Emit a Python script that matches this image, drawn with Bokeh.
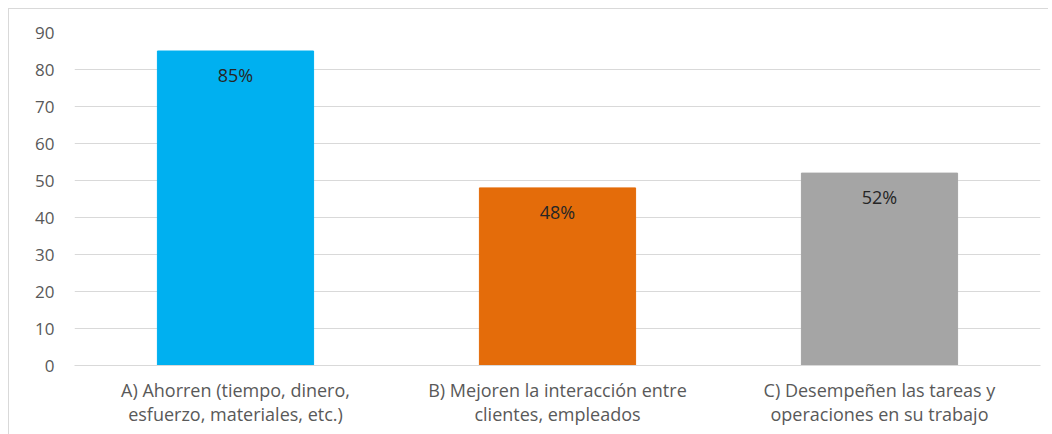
from bokeh.plotting import figure
from bokeh.models import ColumnDataSource, Range1d, FixedTicker, LabelSet
from bokeh.core.properties import value
from bokeh.embed import file_html
from bokeh.resources import INLINE

categories = ["A) Ahorren (tiempo, dinero,\nesfuerzo, materiales, etc.)",
              "B) Mejoren la interacción entre\nclientes, empleados",
              "C) Desempeñen las tareas y\noperaciones en su trabajo"]
values = [85, 48, 52]
labels = ["85%", "48%", "52%"]
colors = ["#00B0F0", "#E46C0A", "#A5A5A5"]
y_ticks = [0, 10, 20, 30, 40, 50, 60, 70, 80, 90]

src = ColumnDataSource(dict(x=categories, top=values, lab=labels, color=colors))

p = figure(x_range=categories, y_range=Range1d(0, 90), width=1040, height=426,
           output_backend="svg", toolbar_location=None)
p.min_border = 0
p.min_border_left = 65
p.min_border_right = 9
p.min_border_top = 23
p.min_border_bottom = 70
p.margin = (8, 0, 0, 8)
p.styles = {"border-left": "1px solid #D9D9D9", "border-top": "1px solid #D9D9D9"}
p.outline_line_color = None
p.border_fill_color = "white"
p.background_fill_color = "white"

p.vbar(x="x", top="top", width=0.485, color="color", source=src)

p.add_layout(LabelSet(x="x", y="top", text="lab", source=src, text_align="center",
                      text_baseline="top", y_offset=-12, text_font=value("Open Sans"),
                      text_font_size="18px", text_color="#262626"))

p.yaxis.ticker = FixedTicker(ticks=y_ticks)
p.yaxis.axis_line_color = None
p.yaxis.major_tick_line_color = None
p.yaxis.minor_tick_line_color = None
p.yaxis.major_label_text_font = "Open Sans"
p.yaxis.major_label_text_font_size = "17px"
p.yaxis.major_label_text_color = "#595959"
p.yaxis.major_label_standoff = 14

p.xaxis.axis_line_color = "#D9D9D9"
p.xaxis.major_tick_line_color = None
p.xaxis.minor_tick_line_color = None
p.xaxis.major_label_text_font = "Open Sans"
p.xaxis.major_label_text_font_size = "18px"
p.xaxis.major_label_text_color = "#595959"
p.xaxis.major_label_text_line_height = 1.0
p.xaxis.major_label_standoff = 6

p.xgrid.grid_line_color = None
p.ygrid.grid_line_color = "#D9D9D9"
p.ygrid.grid_line_width = 1

open("out.html", "w").write(file_html(p, INLINE))
